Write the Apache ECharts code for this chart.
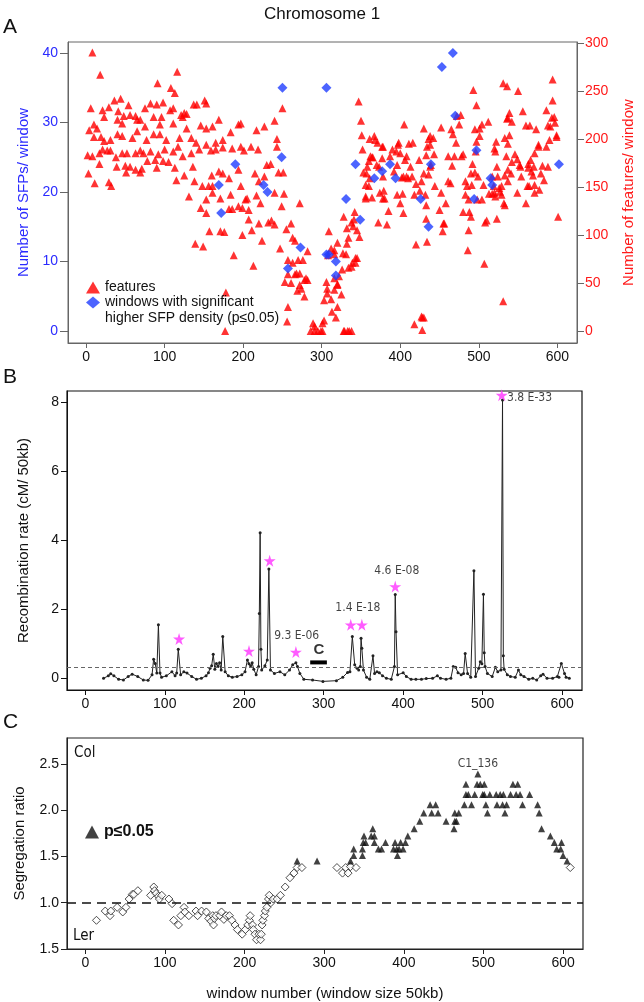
<!DOCTYPE html>
<html><head><meta charset="utf-8">
<script src="https://cdn.jsdelivr.net/npm/echarts@6/dist/echarts.min.js"></script>
<style>html,body{margin:0;padding:0;background:#fff}#c{width:644px;height:1002px}</style>
</head><body><div id="c"></div>
<script>
// ---------- tick labels ----------
const xTicks = [0, 100, 200, 300, 400, 500, 600];
const sfpTicks = [0, 10, 20, 30, 40];
const featureTicks = [0, 50, 100, 150, 200, 250, 300];
const recombTicks = [0, 2, 4, 6, 8];
const segTicks = [0.5, 1.0, 1.5, 2.0, 2.5];
const segTickText = ['1.5', '1.0', '1.5', '2.0', '2.5'];  // as printed in the figure

// ---------- panel A: features per window (right axis) ----------
const featuresA = [[8,290],[18,267],[116,270],[91,258],[108,253],[113,248],[36,240],[44,242],[6,232],[21,230],[29,233],[54,235],[82,237],[90,236],[98,238],[111,232],[125,227],[137,236],[141,236],[151,240],[153,237],[41,229],[48,224],[56,225],[63,224],[69,220],[75,232],[86,223],[96,223],[107,230],[121,225],[123,223],[128,226],[169,220],[161,213],[153,211],[146,214],[128,211],[111,216],[94,215],[75,213],[65,220],[46,216],[40,220],[23,223],[10,215],[14,211],[4,209],[10,202],[19,202],[23,198],[31,199],[40,205],[46,203],[59,201],[65,208],[77,199],[86,205],[94,205],[102,199],[119,201],[134,201],[140,196],[153,194],[165,196],[174,199],[184,207],[194,215],[197,216],[217,209],[227,213],[240,219],[250,232],[243,200],[243,192],[219,189],[210,192],[201,188],[197,192],[186,190],[174,191],[165,189],[159,188],[144,189],[134,185],[123,182],[117,192],[111,187],[100,189],[92,184],[82,187],[73,185],[69,188],[63,185],[52,185],[46,185],[38,181],[31,188],[27,188],[21,189],[17,185],[8,182],[2,183],[3,164],[11,154],[17,174],[29,155],[32,151],[39,171],[50,172],[51,165],[56,171],[63,168],[69,165],[71,169],[78,177],[88,178],[90,170],[98,177],[105,176],[113,170],[115,157],[125,162],[136,171],[138,156],[131,140],[148,151],[156,151],[161,151],[160,162],[169,166],[174,164],[161,144],[171,138],[182,159],[184,142],[194,168],[197,151],[203,137],[205,138],[215,164],[220,156],[227,161],[230,173],[235,174],[245,165],[251,165],[240,144],[252,143],[249,130],[272,133],[217,141],[222,133],[153,137],[146,128],[153,123],[182,127],[199,128],[207,126],[186,127],[194,130],[207,116],[220,112],[211,105],[199,100],[224,94],[232,113],[240,111],[236,115],[255,106],[261,112],[263,97],[266,94],[247,86],[157,104],[171,104],[176,103],[139,91],[149,88],[188,79],[213,68],[257,74],[263,71],[270,74],[276,74],[282,83],[280,55],[278,53],[282,53],[272,48],[274,44],[269,42],[278,36],[261,50],[253,51],[257,59],[268,60],[272,60],[266,59],[309,104],[320,92],[316,80],[316,84],[312,86],[308,79],[316,55],[307,44],[316,43],[320,48],[312,33],[307,39],[303,32],[306,51],[313,20],[318,14],[303,11],[301,8],[289,8],[291,5],[286,0],[291,0],[295,0],[299,0],[301,0],[257,25],[256,10],[178,40],[177,0],
[594,262],[594,240],[586,230],[596,223],[593,222],[588,214],[591,213],[597,217],[599,204],[599,202],[590,199],[586,192],[576,192],[571,185],[566,178],[563,174],[563,170],[570,171],[567,166],[569,162],[579,164],[583,157],[571,152],[577,147],[564,151],[571,144],[560,133],[581,172],[588,171],[562,151],[553,171],[554,161],[549,144],[541,164],[537,156],[549,179],[552,173],[546,184],[539,204],[537,195],[533,201],[536,221],[539,227],[542,218],[537,222],[550,250],[556,229],[560,214],[565,214],[576,194],[573,210],[542,176],[535,182],[537,168],[531,258],[536,255],[533,162],[527,145],[529,142],[532,133],[533,131],[524,161],[526,149],[529,151],[520,144],[519,151],[517,143],[521,140],[513,143],[523,117],[531,31],[523,171],[517,161],[522,197],[520,190],[521,187],[512,218],[506,152],[499,161],[498,137],[508,113],[507,70],[510,115],[504,137],[495,165],[491,152],[485,151],[487,137],[492,174],[497,197],[501,203],[504,215],[501,211],[497,235],[493,251],[495,210],[496,187],[490,164],[488,124],[490,119],[486,84],[487,105],[483,142],[483,156],[480,124],[478,182],[480,184],[477,225],[475,215],[471,196],[472,224],[467,205],[466,172],[469,182],[465,210],[464,154],[461,156],[461,182],[458,133],[456,112],[455,112],[454,104],[452,144],[452,212],[450,126],[444,151],[442,201],[443,184],[438,194],[433,183],[436,163],[439,173],[438,171],[438,203],[436,200],[434,192],[430,211],[430,164],[427,156],[424,178],[425,146],[432,142],[433,131],[433,117],[434,93],[430,14],[428,14],[427,15],[428,1],[418,7],[420,90],[418,142],[420,153],[415,161],[416,196],[411,195],[413,171],[404,161],[406,178],[408,182],[403,143],[404,123],[408,161],[410,159],[405,215],[402,160],[400,133],[400,185],[398,196],[397,194],[396,173],[396,142],[395,187],[390,189],[392,166],[387,182],[385,125],[383,111],[380,138],[378,138],[378,161],[379,146],[378,192],[377,180],[377,192],[373,171],[374,144],[372,113],[371,196],[370,173],[368,199],[367,203],[361,159],[362,182],[364,181],[364,139],[365,181],[361,200],[360,151],[360,177],[356,138],[358,171],[356,152],[353,165],[356,140],[357,164],[352,189],[351,204],[350,219],[347,239],[345,105],[348,98],[345,76],[343,71],[343,76],[339,71],[338,67],[340,109],[342,124],[341,116],[338,113],[334,66],[334,97],[332,91],[332,107],[331,80],[327,81],[328,119],[326,64],[325,38],[322,57],[320,25],[320,49],[329,0],[335,0],[338,0],[328,0],[333,0],[601,119]];

// ---------- panel A: windows with significantly higher SFP density (left axis) ----------
const sfpWindowsA = [[169,21],[172,17],[190,24],[226,21],[231,20],[249,25],[250,35],[257,9],[273,12],[306,35],[306,11],[309,11],[318,10],[318,8],[331,19],[343,24],[349,16],[367,22],[377,23],[387,24],[394,22],[426,19],[436,15],[439,24],[453,38],[467,40],[470,31],[494,19],[497,26],[515,22],[517,21],[602,24]];

// ---------- panel B: recombination rate ----------
const recombRate = [[23,0],[29,0.07],[32,0.13],[36,0.07],[42,-0.03],[48,-0.05],[54,0.05],[59,0.12],[66,0.05],[73,-0.05],[79,-0.06],[84,0.1],[86,0.55],[88,0.43],[90,0.15],[92,1.55],[94,0.15],[96,0.03],[102,0.07],[109,0.19],[113,0.07],[115,0.15],[117,0.84],[120,0.1],[124,0.19],[128,0.15],[134,0.05],[140,-0.03],[146,0],[152,0.07],[155,0.16],[157,0.29],[159,0.36],[161,0.7],[163,0.26],[165,0.43],[167,0.34],[169,0.45],[171,0.24],[173,1.21],[176,0.19],[180,0.07],[185,0.03],[191,0.05],[197,0.1],[201,0.19],[204,0.53],[206,0.42],[208,0.36],[210,0.45],[212,0.26],[215,0.1],[218,0.34],[219,1.88],[220,4.22],[221,0.84],[222,0.24],[226,0.36],[229,0.53],[231,3.17],[233,0.24],[238,0.14],[245,0.19],[251,0.1],[257,0.24],[261,0.39],[265,0.45],[267,0.34],[270,0.14],[275,-0.03],[286,-0.05],[299,-0.09],[316,-0.07],[324,0.03],[330,0.17],[333,0.19],[336,1.21],[339,0.39],[342,0.29],[344,0.24],[346,0.34],[347,1.16],[348,0.87],[350,0.24],[354,0.03],[358,-0.03],[362,0.65],[364,0.14],[367,0.19],[370,0.16],[374,0.07],[379,0],[385,-0.03],[389,0.34],[390,2.43],[391,1.35],[393,0.1],[400,0.16],[404,0.05],[410,-0.03],[416,-0.03],[423,-0.03],[429,-0.01],[437,0],[443,0.07],[447,0],[454,-0.03],[460,0],[463,0.34],[466,0.32],[469,0.16],[473,0.1],[476,0.14],[478,0.72],[481,0.14],[485,0.03],[489,3.12],[491,0.05],[495,0.29],[497,0.48],[499,0.42],[501,2.44],[502,0.74],[503,0.34],[506,0.14],[512,0.05],[516,0.32],[519,0.19],[523,0.24],[525,8.07],[526,0.65],[527,0.26],[531,0.1],[535,0.05],[541,0.03],[545,0.24],[548,0.1],[552,0.05],[558,-0.03],[563,0],[568,-0.05],[573,0.07],[576,0.12],[581,0],[588,0],[594,0.05],[596,0.03],[599,0.43],[603,0.14],[605,0.03],[609,0]];
const recombStars = [[118,1.14],[206,0.79],[232,3.41],[265,0.76],[334,1.55],[348,1.55],[390,2.66],[524,8.21]];
const recombThreshold = 0.33;
const pvalueText = ['9.3 E-06', '1.4 E-18', '4.6 E-08', '3.8 E-33'];
const pvalueAt = [[266,1.24],[343,2.03],[392,3.12],[559,8.13]];
const cRegion = [[283,0.46],[304,0.46]];
const cRegionLabelAt = [294,0.82];

// ---------- panel C: segregation ratio ----------
const segNotSig = [[14,0.81],[25,0.91],[31,0.86],[32,0.91],[40,0.95],[47,0.90],[51,0.95],[55,1.04],[59,1.09],[61,1.09],[66,1.13],[82,1.08],[86,1.17],[87,1.13],[89,1.10],[92,1.07],[93,1.04],[96,1.08],[105,1.04],[109,0.99],[111,0.81],[117,0.76],[120,0.86],[124,0.95],[125,0.90],[130,0.86],[139,0.91],[141,0.86],[146,0.91],[152,0.90],[155,0.83],[158,0.80],[160,0.86],[161,0.76],[162,0.83],[164,0.86],[169,0.86],[171,0.90],[174,0.82],[177,0.86],[181,0.86],[184,0.81],[188,0.76],[191,0.71],[197,0.66],[201,0.71],[204,0.76],[206,0.81],[207,0.86],[210,0.76],[211,0.71],[213,0.66],[215,0.60],[218,0.66],[220,0.60],[221,0.66],[222,0.76],[223,0.81],[225,0.86],[226,0.91],[228,0.95],[230,1.04],[231,1.08],[233,1.00],[236,1.04],[241,1.04],[245,1.08],[251,1.17],[257,1.27],[262,1.32],[266,1.38],[272,1.38],[316,1.38],[323,1.32],[327,1.38],[330,1.32],[333,1.39],[340,1.38],[609,1.38]];
const segSig = [[266,1.45],[291,1.45],[333,1.45],[337,1.51],[337,1.58],[348,1.51],[348,1.58],[349,1.65],[350,1.72],[352,1.65],[359,1.72],[361,1.80],[363,1.72],[363,1.65],[368,1.58],[372,1.58],[377,1.65],[387,1.58],[389,1.65],[391,1.58],[392,1.51],[394,1.58],[396,1.65],[399,1.58],[402,1.65],[405,1.72],[413,1.80],[420,1.88],[425,1.97],[433,2.06],[435,1.97],[440,2.06],[443,1.97],[453,1.88],[463,1.80],[464,1.88],[466,1.88],[464,1.97],[469,1.97],[476,2.06],[478,2.17],[478,2.28],[481,2.17],[485,2.06],[489,2.17],[492,2.28],[493,2.39],[496,2.28],[499,2.17],[501,2.28],[501,2.17],[503,2.06],[505,1.97],[508,2.17],[516,2.17],[517,2.06],[521,2.17],[524,2.06],[525,2.17],[527,1.97],[529,2.06],[534,2.17],[537,2.28],[543,2.28],[541,2.17],[546,2.17],[549,2.06],[558,2.17],[568,2.06],[570,1.97],[573,1.80],[584,1.72],[589,1.65],[592,1.58],[598,1.65],[597,1.58],[600,1.51],[605,1.45]];
const segPeakLabel = 'C1_136';
const segPeakLabelAt = [493,2.50];
const segBaseline = 1.0;

// ---------- chart ----------
const FONT = 'Liberation Sans, Arial, sans-serif';
const NARROW = 'Liberation Sans Narrow, DejaVu Sans Condensed, sans-serif';
const BLUE = '#2b2bff', RED = '#ff1a1a';
const STAR = 'path://M50,0 L61,35 L98,35 L68,57 L79,91 L50,70 L21,91 L32,57 L2,35 L39,35 Z';
const SFP_NAME = 'windows with significant higher SFP density (p≤0.05)';

function xAx(gi, col, extra) {
  return Object.assign({
    type: 'value', gridIndex: gi, min: -23, max: 625,
    axisLine: {show: true, onZero: false, lineStyle: {color: col, width: 1}},
    axisTick: {show: true, customValues: xTicks, length: 5, lineStyle: {color: col}},
    axisLabel: {customValues: xTicks, fontSize: 14, color: '#111', margin: 7, fontFamily: FONT},
    splitLine: {show: false}
  }, extra || {});
}
function yAx(gi, min, max, ticks, col, labCol, extra) {
  return Object.assign({
    type: 'value', gridIndex: gi, min: min, max: max,
    axisLine: {show: true, onZero: false, lineStyle: {color: col, width: 1}},
    axisTick: {show: true, customValues: ticks, length: 6, lineStyle: {color: col}},
    axisLabel: {customValues: ticks, fontSize: 14, color: labCol, margin: 8, fontFamily: FONT},
    splitLine: {show: false}
  }, extra || {});
}

const chart = echarts.init(document.getElementById('c'));
chart.setOption({
  animation: false,
  backgroundColor: '#fff',
  title: {text: 'Chromosome 1', left: 'center', top: 1,
    textStyle: {fontSize: 17, fontWeight: 'normal', color: '#111', fontFamily: FONT}},
  grid: [
    {left: 68, right: 61, top: 42, height: 301, show: true, borderColor: '#666', borderWidth: 1},
    {left: 67, right: 62, top: 391, height: 299, show: true, borderColor: '#111', borderWidth: 1.2},
    {left: 67, right: 61, top: 738, height: 211, show: true, borderColor: '#222', borderWidth: 1.2}
  ],
  xAxis: [
    xAx(0, '#666'),
    xAx(1, '#111'),
    xAx(2, '#222', {name: 'window number (window size 50kb)', nameLocation: 'middle', nameGap: 37,
      nameTextStyle: {fontSize: 15, color: '#111', fontFamily: FONT}})
  ],
  yAxis: [
    yAx(0, -1.73, 41.6, sfpTicks, '#666', BLUE, {position: 'left',
      axisTick: {show: true, customValues: sfpTicks, length: 8, lineStyle: {color: '#666'}},
      axisLabel: {customValues: sfpTicks, fontSize: 14, color: BLUE, margin: 10, fontFamily: FONT},
      name: 'Number of SFPs/ window', nameLocation: 'middle', nameGap: 36,
      nameTextStyle: {fontSize: 15, color: BLUE, fontFamily: FONT}}),
    yAx(0, -12.5, 301, featureTicks, '#666', RED, {position: 'right',
      axisTick: {show: true, customValues: featureTicks, length: 7, lineStyle: {color: '#666'}},
      axisLabel: {customValues: featureTicks, fontSize: 14, color: RED, margin: 8, fontFamily: FONT},
      name: 'Number of features/ window', nameLocation: 'middle', nameGap: 44,
      nameTextStyle: {fontSize: 15, color: RED, fontFamily: FONT}}),
    yAx(1, -0.34, 8.33, recombTicks, '#111', '#111', {
      name: 'Recombination rate (cM/ 50kb)', nameLocation: 'middle', nameGap: 36,
      nameTextStyle: {fontSize: 15, color: '#111', fontFamily: FONT}}),
    yAx(2, 0.5, 2.78, segTicks, '#222', '#111', {
      axisLabel: {customValues: segTicks, fontSize: 14, color: '#111', margin: 8, fontFamily: FONT,
        formatter: v => segTickText[segTicks.indexOf(v)] || ''},
      name: 'Segregation ratio', nameLocation: 'middle', nameGap: 40,
      nameTextStyle: {fontSize: 15, color: '#111', fontFamily: FONT}})
  ],
  legend: [
    {data: ['features', SFP_NAME], orient: 'vertical',
      left: 81, top: 275, itemWidth: 14, itemHeight: 12, itemGap: 0,
      formatter: n => n === SFP_NAME ? 'windows with significant' : n,
      textStyle: {fontSize: 14, color: '#111', fontFamily: FONT, lineHeight: 15}},
    {data: ['p≤0.05'], left: 80, top: 819, itemWidth: 14, itemHeight: 13,
      textStyle: {fontSize: 16, fontWeight: 'bold', color: '#111', fontFamily: FONT}}
  ],
  graphic: [
    {type: 'text', left: 3, top: 17, style: {text: 'A', fontSize: 21, fill: '#111', fontFamily: FONT}},
    {type: 'text', left: 3, top: 367, style: {text: 'B', fontSize: 21, fill: '#111', fontFamily: FONT}},
    {type: 'text', left: 3, top: 712, style: {text: 'C', fontSize: 21, fill: '#111', fontFamily: FONT}},
    {type: 'text', left: 105, top: 311, style: {text: 'higher SFP density (p≤0.05)', fontSize: 14, fill: '#111', fontFamily: FONT}},
    {type: 'text', left: 74, top: 746, style: {text: 'Col', fontSize: 15, fill: '#111', fontFamily: NARROW}},
    {type: 'text', left: 73, top: 929, style: {text: 'Ler', fontSize: 15, fill: '#111', fontFamily: NARROW}}
  ],
  series: [
    {name: 'features', type: 'scatter', xAxisIndex: 0, yAxisIndex: 1, symbol: 'triangle', symbolSize: 8,
      itemStyle: {color: '#ff0000'}, data: featuresA, z: 2},
    {name: SFP_NAME, type: 'scatter', xAxisIndex: 0, yAxisIndex: 0,
      symbol: 'diamond', symbolSize: 10, itemStyle: {color: '#1f3dff'}, data: sfpWindowsA, z: 3},
    {name: 'recombination', type: 'line', xAxisIndex: 1, yAxisIndex: 2, data: recombRate,
      symbol: 'circle', symbolSize: 3, showSymbol: true,
      lineStyle: {color: '#222', width: 1}, itemStyle: {color: '#222'},
      markLine: {silent: true, symbol: 'none', label: {show: false},
        lineStyle: {type: [4, 3], color: '#666', width: 1}, data: [{yAxis: recombThreshold}]}},
    {name: 'significant peaks', type: 'scatter', xAxisIndex: 1, yAxisIndex: 2, data: recombStars,
      symbol: STAR, symbolSize: 12, itemStyle: {color: '#ff33ff'}, z: 4},
    {name: 'region C', type: 'line', xAxisIndex: 1, yAxisIndex: 2, data: cRegion, symbol: 'none',
      lineStyle: {color: '#000', width: 4}},
    {name: 'region C label', type: 'scatter', xAxisIndex: 1, yAxisIndex: 2, symbolSize: 0,
      data: [{value: cRegionLabelAt, name: 'C'}],
      label: {show: true, position: 'inside', formatter: '{b}', fontSize: 15, fontWeight: 'bold', color: '#000', fontFamily: FONT}},
    {name: 'p values', type: 'scatter', xAxisIndex: 1, yAxisIndex: 2, symbolSize: 0,
      data: pvalueAt.map((p, i) => ({value: p, name: pvalueText[i]})),
      label: {show: true, position: 'inside', formatter: '{b}', fontSize: 12, color: '#111', fontFamily: NARROW}},
    {name: 'not significant', type: 'scatter', xAxisIndex: 2, yAxisIndex: 3, data: segNotSig,
      symbol: 'diamond', symbolSize: 8, itemStyle: {color: '#fff', borderColor: '#222', borderWidth: 1},
      markLine: {silent: true, symbol: 'none', label: {show: false},
        lineStyle: {type: [9, 6], color: '#111', width: 1.5}, data: [{yAxis: segBaseline}]}},
    {name: 'p≤0.05', type: 'scatter', xAxisIndex: 2, yAxisIndex: 3, data: segSig,
      symbol: 'triangle', symbolSize: 7, itemStyle: {color: '#111'}},
    {name: 'peak label', type: 'scatter', xAxisIndex: 2, yAxisIndex: 3, symbolSize: 0,
      data: [{value: segPeakLabelAt, name: segPeakLabel}],
      label: {show: true, position: 'inside', formatter: '{b}', fontSize: 12, color: '#111', fontFamily: NARROW}}
  ]
});
</script>
</body></html>
